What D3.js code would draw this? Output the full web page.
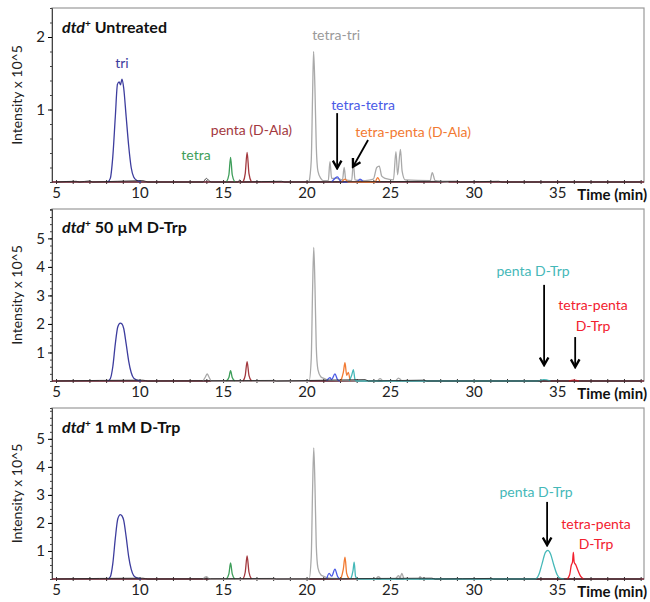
<!DOCTYPE html>
<html>
<head>
<meta charset="utf-8">
<script src="https://cdn.jsdelivr.net/npm/d3@7"></script>
<style>
  body { margin: 0; background: #fff; }
  text { font-family: Lato, sans-serif; }
</style>
</head>
<body>
<svg id="chart" width="650" height="602"></svg>
<script>
// ---- data: [time (min), intensity x 10^5] ----
const xTicks = [5, 10, 15, 20, 25, 30, 35];
const yTicksTop = [1, 2];
const yTicksLow = [1, 2, 3, 4, 5];

// dtd+ Untreated
const untreatedTri = [[8.1,0],[8.25,0.05],[8.4,0.35],[8.55,0.9],[8.68,1.35],[8.78,1.38],[8.86,1.34],[8.95,1.42],[9.05,1.3],[9.2,0.9],[9.35,0.5],[9.5,0.2],[9.65,0.07],[9.85,0.02],[10.1,0]];
const untreatedTetra = [[15.2,0],[15.35,0.1],[15.45,0.34],[15.55,0.1],[15.7,0]];
const untreatedPentaAla = [[16.2,0],[16.33,0.12],[16.44,0.41],[16.55,0.12],[16.7,0]];
const untreatedGrey = [[20.15,0],[20.28,0.3],[20.36,1.2],[20.42,1.8],[20.5,1.3],[20.58,0.5],[20.68,0.15],[20.85,0.05],[21.0,0.02],[21.3,0.02],[21.4,0.28],[21.5,0.05],[21.8,0.05],[22.15,0.03],[22.25,0.2],[22.35,0.03],[22.7,0.02],[22.8,0.27],[22.9,0.03],[23.5,0.02],[24.0,0.04],[24.2,0.2],[24.35,0.22],[24.5,0.08],[24.7,0.05],[25.2,0.03],[25.35,0.42],[25.45,0.1],[25.62,0.45],[25.72,0.15],[25.9,0.03],[27.4,0.02],[27.52,0.13],[27.7,0.02],[28.5,0]];
const untreatedTetraTetra = [[21.5,0],[21.7,0.05],[21.85,0.07],[22.0,0.02],[22.2,0],[23.0,0],[23.2,0.04],[23.4,0]];
const untreatedTetraPentaAla = [[22.1,0],[22.3,0.04],[22.5,0],[24.1,0],[24.25,0.06],[24.4,0]];
const untreatedNoise = [[5,0],[6.2,0.01],[6.4,0],[7.0,0.015],[7.2,0],[10.2,0.02],[10.5,0],[13.8,0],[14.0,0.05],[14.15,0.02],[14.3,0],[15.9,0],[16.0,0.03],[16.1,0],[18.5,0.01],[18.7,0],[29.0,0.01],[29.2,0],[31.5,0.01],[31.7,0],[40,0]];

// dtd+ 50 uM D-Trp
const trp50Tri = [[8.1,0],[8.25,0.08],[8.4,0.5],[8.55,1.3],[8.7,1.9],[8.85,2.03],[8.95,2.0],[9.05,1.85],[9.2,1.3],[9.35,0.7],[9.5,0.3],[9.65,0.1],[9.85,0.03],[10.1,0]];
const trp50Tetra = [[15.2,0],[15.35,0.12],[15.45,0.36],[15.55,0.12],[15.7,0]];
const trp50PentaAla = [[16.2,0],[16.33,0.2],[16.44,0.68],[16.55,0.2],[16.7,0]];
const trp50Grey = [[13.8,0],[13.95,0.15],[14.05,0.25],[14.15,0.15],[14.3,0],[20.15,0],[20.28,0.8],[20.36,3.2],[20.43,4.68],[20.5,3.4],[20.58,1.2],[20.68,0.4],[20.85,0.15],[21.0,0.1],[21.2,0.05],[21.5,0.02],[24.2,0],[24.4,0.08],[24.6,0],[25.3,0],[25.5,0.1],[25.7,0]];
const trp50TetraTetra = [[21.2,0],[21.4,0.12],[21.5,0.05],[21.7,0.25],[21.85,0.05],[22.0,0]];
const trp50TetraPentaAla = [[22.05,0],[22.2,0.3],[22.3,0.64],[22.4,0.2],[22.5,0.3],[22.6,0]];
const trp50PentaTrp = [[22.55,0],[22.7,0.2],[22.8,0.4],[22.9,0.05],[23.0,0],[33.8,0],[34.2,0.05],[34.6,0]];
const trp50TetraPentaTrp = [[35.7,0],[36.0,0.03],[36.3,0]];
const trp50Noise = [[5,0],[10.2,0.03],[10.5,0],[18.0,0.02],[18.2,0],[23.5,0.05],[23.7,0],[27.0,0.03],[27.2,0],[40,0]];

// dtd+ 1 mM D-Trp
const trp1Tri = [[8.1,0],[8.25,0.08],[8.4,0.55],[8.55,1.45],[8.7,2.15],[8.85,2.3],[8.95,2.25],[9.05,2.1],[9.2,1.5],[9.35,0.8],[9.5,0.35],[9.65,0.12],[9.85,0.04],[10.1,0]];
const trp1Tetra = [[15.2,0],[15.35,0.18],[15.45,0.57],[15.55,0.18],[15.7,0]];
const trp1PentaAla = [[16.2,0],[16.33,0.25],[16.44,0.82],[16.55,0.25],[16.7,0]];
const trp1Grey = [[13.8,0],[14.0,0.08],[14.2,0],[20.15,0],[20.28,0.8],[20.36,3.2],[20.43,4.68],[20.5,3.4],[20.58,1.2],[20.68,0.4],[20.85,0.15],[21.0,0.1],[21.2,0.05],[21.5,0.02],[24.1,0],[24.3,0.08],[24.5,0],[25.3,0],[25.5,0.12],[25.6,0.05],[25.7,0.2],[25.85,0],[26.7,0],[26.8,0.08],[26.9,0]];
const trp1TetraTetra = [[21.2,0],[21.35,0.2],[21.5,0.1],[21.7,0.35],[21.85,0.1],[22.0,0]];
const trp1TetraPentaAla = [[22.05,0],[22.2,0.35],[22.3,0.78],[22.4,0.2],[22.55,0]];
const trp1PentaTrp = [[22.65,0],[22.78,0.3],[22.85,0.6],[22.93,0.1],[23.05,0],[33.7,0],[33.9,0.15],[34.1,0.55],[34.3,0.95],[34.45,1.02],[34.6,0.9],[34.8,0.5],[35.0,0.15],[35.2,0.02],[35.4,0]];
const trp1TetraPentaTrp = [[35.6,0],[35.75,0.15],[35.85,0.5],[35.92,0.6],[35.97,0.95],[36.02,0.6],[36.12,0.5],[36.25,0.3],[36.4,0.1],[36.6,0]];
const trp1Noise = [[5,0],[10.2,0.03],[10.5,0],[18.0,0.02],[18.2,0],[27.5,0.03],[27.7,0],[31.0,0.02],[31.2,0],[40,0]];

const colors = {
  tri: "#3d3d9e", tetra: "#3e9e5a", pentaAla: "#a3383e", grey: "#a9a9a9",
  tetraTetra: "#4a5ae6", tetraPentaAla: "#f27a32", pentaTrp: "#45b8b8",
  tetraPentaTrp: "#f2202e", noise: "#222", base: "#6e2634"
};

const panels = [
  { title: "Untreated", top: 8, bottom: 182, yMax: 2.4, ticks: yTicksTop, minor: 0.2, titleY: 33, labelY: 200,
    series: [["grey", untreatedGrey], ["tri", untreatedTri], ["tetra", untreatedTetra], ["pentaAla", untreatedPentaAla],
             ["tetraTetra", untreatedTetraTetra], ["tetraPentaAla", untreatedTetraPentaAla], ["noise", untreatedNoise]],
    labels: [["tri", "tri", 8.95, 1.64], ["tetra", "tetra", 13.38, 0.37], ["pentaAla", "penta (D-Ala)", 16.7, 0.72],
             ["grey", "tetra-tri", 21.77, 2.03], ["tetraTetra", "tetra-tetra", 23.38, 1.06],
             ["tetraPentaAla", "tetra-penta (D-Ala)", 26.38, 0.69]],
    arrows: [[21.83, 0.95, 21.83, 0.19], [23.68, 0.58, 22.78, 0.21]] },
  { title: "50 µM D-Trp", top: 209, bottom: 381, yMax: 6.03, ticks: yTicksLow, minor: 0.25, titleY: 233, labelY: 399,
    series: [["grey", trp50Grey], ["tri", trp50Tri], ["tetra", trp50Tetra], ["pentaAla", trp50PentaAla],
             ["tetraTetra", trp50TetraTetra], ["tetraPentaAla", trp50TetraPentaAla], ["pentaTrp", trp50PentaTrp],
             ["tetraPentaTrp", trp50TetraPentaTrp], ["noise", trp50Noise]],
    labels: [["pentaTrp", "penta D-Trp", 33.56, 3.86], ["tetraPentaTrp", "tetra-penta", 37.15, 2.67],
             ["tetraPentaTrp", "D-Trp", 37.15, 1.93]],
    arrows: [[34.22, 3.37, 34.22, 0.56], [36.08, 1.54, 36.08, 0.49]] },
  { title: "1 mM D-Trp", top: 408, bottom: 579, yMax: 6.1, ticks: yTicksLow, minor: 0.25, titleY: 433, labelY: 597,
    series: [["grey", trp1Grey], ["tri", trp1Tri], ["tetra", trp1Tetra], ["pentaAla", trp1PentaAla],
             ["tetraTetra", trp1TetraTetra], ["tetraPentaAla", trp1TetraPentaAla], ["pentaTrp", trp1PentaTrp],
             ["tetraPentaTrp", trp1TetraPentaTrp], ["noise", trp1Noise]],
    labels: [["pentaTrp", "penta D-Trp", 33.74, 3.11], ["tetraPentaTrp", "tetra-penta", 37.33, 1.96],
             ["tetraPentaTrp", "D-Trp", 37.33, 1.25]],
    arrows: [[34.4, 2.75, 34.4, 1.21]] }
];

const svg = d3.select("#chart");
const left = 52, right = 644;
const x = d3.scaleLinear().domain([4.76, 40.2]).range([left, right]);

svg.append("defs").append("marker")
  .attr("id", "head").attr("viewBox", "0 0 10 10").attr("refX", 8).attr("refY", 5)
  .attr("markerWidth", 6).attr("markerHeight", 6).attr("orient", "auto")
  .append("path").attr("d", "M1,1 L8,5 L1,9").attr("fill", "none").attr("stroke", "#000").attr("stroke-width", 2.2);

panels.forEach(p => {
  const y = d3.scaleLinear().domain([0, p.yMax]).range([p.bottom, p.top]);
  const g = svg.append("g");

  // frame
  g.append("rect").attr("x", left).attr("y", p.top).attr("width", right - left).attr("height", p.bottom - p.top)
    .attr("fill", "none").attr("stroke", "#9a9a9a").attr("stroke-width", 1.2);

  // left axis with minor ticks
  g.append("g").attr("transform", `translate(${left},0)`)
    .call(d3.axisLeft(y).tickValues(d3.range(p.minor, p.yMax, p.minor)).tickSize(2).tickFormat(""))
    .call(a => a.select(".domain").attr("stroke", "#444"))
    .call(a => a.selectAll("line").attr("stroke", "#444"));
  g.append("g").attr("transform", `translate(${left},0)`)
    .call(d3.axisLeft(y).tickValues(p.ticks).tickSize(4).tickPadding(3).tickFormat(d3.format("d")))
    .call(a => a.select(".domain").remove())
    .call(a => a.selectAll("text").attr("font-size", 15).attr("fill", "#222").style("font-family", "Lato"));

  // bottom axis
  g.append("g").attr("transform", `translate(0,${p.bottom})`)
    .call(d3.axisBottom(x).tickValues(d3.range(5, 41, 1)).tickSize(2).tickFormat(""))
    .call(a => a.select(".domain").remove())
    .call(a => a.selectAll("line").attr("stroke", "#333").attr("y1", -2));
  g.append("g").attr("transform", `translate(0,${p.bottom})`)
    .call(d3.axisBottom(x).tickValues(xTicks).tickSize(0).tickPadding(5))
    .call(a => a.select(".domain").remove())
    .call(a => a.selectAll("text").attr("font-size", 15).attr("fill", "#222").style("font-family", "Lato"));
  g.append("text").attr("x", 647).attr("y", p.labelY).attr("text-anchor", "end")
    .attr("font-size", 15).attr("font-weight", "bold").attr("fill", "#111").text("Time (min)");

  // y label
  g.append("text").attr("transform", `translate(22,${(p.top + p.bottom) / 2}) rotate(-90)`)
    .attr("text-anchor", "middle").attr("font-size", 14).attr("fill", "#222").text("Intensity x 10^5");

  // title
  const t = g.append("text").attr("x", 62).attr("y", p.titleY).attr("font-size", 16).attr("font-weight", "bold").attr("fill", "#111");
  t.append("tspan").attr("font-style", "italic").text("dtd");
  t.append("tspan").attr("font-size", 10).attr("dy", -6).text("+");
  t.append("tspan").attr("dy", 6).text(" " + p.title);

  // traces
  const line = d3.line().x(d => x(d[0])).y(d => y(d[1])).curve(d3.curveMonotoneX);
  g.append("line").attr("x1", x.range()[0]).attr("x2", x.range()[1]).attr("y1", y(0)).attr("y2", y(0))
    .attr("stroke", colors.base).attr("stroke-width", 1.6);
  p.series.forEach(([k, data]) => {
    g.append("path").datum(data).attr("d", line).attr("fill", "none")
      .attr("stroke", colors[k]).attr("stroke-width", k === "noise" ? 0.8 : 1.3).attr("stroke-linejoin", "round");
  });

  // annotations
  p.labels.forEach(([k, txt, tx, ty]) => {
    g.append("text").attr("x", x(tx)).attr("y", y(ty)).attr("dy", "0.35em").attr("text-anchor", "middle")
      .attr("font-size", 14).attr("fill", k === "grey" ? "#9a9a9a" : colors[k]).text(txt);
  });
  p.arrows.forEach(([x1, y1, x2, y2]) => {
    g.append("line").attr("x1", x(x1)).attr("y1", y(y1)).attr("x2", x(x2)).attr("y2", y(y2))
      .attr("stroke", "#000").attr("stroke-width", 1.8).attr("marker-end", "url(#head)");
  });
});
</script>
</body>
</html>
